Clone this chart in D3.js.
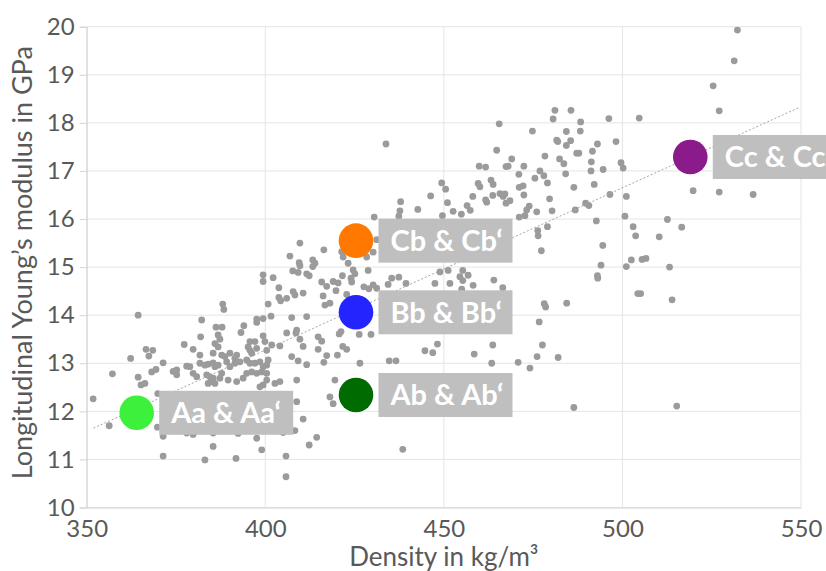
<!DOCTYPE html>
<html>
<head>
<meta charset="utf-8">
<script src="https://cdn.jsdelivr.net/npm/d3@7"></script>
<style>
  body { margin: 0; background: #fff; }
  text { font-family: Lato, "Open Sans", sans-serif; }
</style>
</head>
<body>
<div id="chart"></div>
<script>
// Sample measurements: [density kg/m3, longitudinal Young's modulus GPa]
const samples = [
  [481.1,18.26],[485.6,18.26],[480.6,18.08],[488.3,18.02],[496.2,18.09],[504.7,18.10],[465.5,17.98],[474.8,17.83],
  [484.3,17.82],[488.2,17.83],[481.6,17.64],[481.9,17.61],[485.5,17.63],[484.3,17.53],[493.0,17.56],[498.2,17.61],
  [464.8,17.43],[487.2,17.37],[487.8,17.37],[491.6,17.41],[478.3,17.31],[469.0,17.25],[482.4,17.25],[491.3,17.19],
  [483.6,17.15],[499.6,17.17],[467.4,17.09],[468.0,17.10],[472.4,17.10],[476.9,17.00],[491.2,17.00],[494.6,17.03],
  [500.2,17.06],[471.0,16.93],[478.0,16.90],[484.1,16.94],[475.5,16.85],[463.2,16.81],[463.8,16.72],[479.0,16.75],
  [492.1,16.72],[486.4,16.66],[471.1,16.66],[472.2,16.69],[463.7,16.49],[465.7,16.53],[467.1,16.52],[466.6,16.47],
  [472.4,16.50],[496.5,16.51],[501.1,16.47],[467.4,16.33],[468.5,16.38],[479.6,16.42],[489.7,16.33],[490.6,16.28],
  [473.9,16.27],[473.2,16.19],[476.0,16.15],[480.3,16.17],[486.8,16.19],[471.1,16.04],[472.7,16.07],[500.7,16.06],
  [492.7,15.96],[503.0,15.84],[479.0,15.84],[476.3,15.76],[476.4,15.65],[503.7,15.65],[510.3,15.63],[494.5,15.45],
  [477.3,15.34],[494.0,15.04],[501.1,15.01],[502.5,15.15],[505.5,15.16],[506.6,15.18],[493.0,14.82],[493.1,14.77],
  [464.0,14.73],[466.5,14.57],[504.3,14.45],[505.1,14.45],[478.1,14.24],[478.5,14.17],[484.4,14.25],[532.2,19.93],
  [531.3,19.29],[525.4,18.77],[527.1,18.25],[519.8,16.59],[527.1,16.56],[536.6,16.51],[516.6,15.83],[512.6,15.99],
  [513.2,15.00],[513.9,14.32],[476.7,13.86],[477.6,13.38],[476.1,13.14],[482.0,13.12],[474.1,12.90],[486.4,12.08],
  [515.2,12.11],[413.3,15.15],[413.9,15.08],[413.3,15.01],[409.7,15.03],[411.6,14.86],[412.3,14.82],[423.2,15.08],
  [424.6,14.94],[425.1,14.86],[428.8,14.93],[421.6,14.82],[419.0,14.70],[420.4,14.67],[415.8,14.69],[417.2,14.60],
  [435.4,14.77],[437.4,14.79],[434.4,14.64],[439.4,14.66],[427.6,14.59],[429.0,14.55],[430.2,14.63],[431.2,14.56],
  [424.2,14.69],[410.6,14.46],[416.2,14.40],[419.8,14.51],[418.1,14.25],[416.7,14.21],[422.8,14.43],[447.5,14.66],
  [448.9,14.90],[451.2,14.93],[454.5,14.80],[455.3,14.93],[455.3,14.72],[456.8,14.83],[451.7,14.66],[455.0,14.54],
  [458.2,14.62],[411.6,13.97],[409.7,13.50],[410.6,13.35],[414.8,13.55],[415.8,13.46],[414.8,13.29],[421.2,13.66],
  [420.7,13.61],[421.7,13.35],[422.8,13.29],[426.3,13.60],[429.6,13.60],[417.2,13.16],[420.2,13.17],[411.6,12.97],
  [416.4,13.02],[426.5,13.00],[434.7,13.05],[436.6,13.05],[444.7,13.26],[446.9,13.22],[448.2,13.40],[458.5,13.19],
  [463.7,13.38],[463.4,13.00],[470.8,13.02],[419.5,12.65],[418.1,12.30],[419.0,12.16],[410.6,11.84],[414.4,11.46],
  [412.3,11.30],[438.5,11.21],[433.8,17.56],[459.9,17.10],[461.7,17.08],[459.6,16.74],[460.1,16.67],[449.4,16.75],
  [450.5,16.62],[446.3,16.48],[458.1,16.47],[461.7,16.40],[462.0,16.35],[437.9,16.36],[437.7,16.17],[437.4,16.06],
  [442.7,16.20],[451.0,16.34],[452.6,16.16],[454.9,16.10],[456.5,16.28],[457.4,16.18],[449.6,16.07],[430.5,16.04],
  [409.7,15.50],[416.4,15.36],[421.4,15.32],[431.2,15.57],[430.2,15.31],[421.8,15.21],[428.4,15.21],[424.0,14.77],
  [406.9,15.23],[409.5,15.09],[407.7,14.92],[409.2,14.89],[399.4,14.84],[399.4,14.70],[402.2,14.78],[403.8,14.57],
  [403.8,14.37],[404.3,14.30],[406.0,14.35],[407.8,14.49],[408.3,14.42],[400.8,14.23],[388.1,14.23],[388.4,14.12],
  [382.2,13.90],[397.6,13.92],[397.6,13.85],[399.4,13.93],[401.6,13.98],[407.4,13.95],[386.2,13.75],[387.9,13.75],
  [394.0,13.78],[393.2,13.64],[386.8,13.59],[381.9,13.55],[387.3,13.50],[395.7,13.45],[397.1,13.45],[395.2,13.34],
  [399.4,13.57],[399.9,13.45],[401.8,13.38],[404.1,13.36],[406.0,13.63],[408.8,13.69],[408.6,13.63],[377.3,13.39],
  [385.9,13.41],[386.8,13.34],[379.8,13.29],[381.7,13.17],[385.4,13.21],[387.8,13.17],[388.7,13.14],[390.1,13.21],
  [392.0,13.17],[391.5,13.10],[395.7,13.27],[397.6,13.31],[396.2,13.21],[400.4,13.27],[371.4,13.01],[378.0,12.94],
  [378.9,12.93],[381.7,13.00],[383.1,12.96],[384.0,12.98],[385.4,13.01],[385.9,12.93],[386.8,12.96],[389.2,13.03],
  [390.1,12.93],[391.5,13.00],[392.9,13.03],[394.8,13.07],[395.7,13.00],[397.1,13.00],[398.5,13.03],[399.4,12.93],
  [400.4,12.96],[400.8,13.07],[407.4,13.14],[409.2,13.05],[374.2,12.83],[375.2,12.76],[379.8,12.79],[380.8,12.72],
  [383.6,12.76],[384.5,12.72],[385.4,12.69],[385.0,12.62],[385.9,12.58],[384.0,12.58],[387.8,12.79],[387.3,12.69],
  [389.6,12.65],[392.0,12.62],[393.8,12.69],[394.8,12.79],[396.2,12.82],[397.6,12.79],[399.0,12.82],[400.4,12.79],
  [400.4,12.65],[402.7,12.58],[404.1,12.62],[408.8,12.65],[398.5,12.51],[399.4,12.55],[408.8,12.20],[408.3,11.60],
  [371.4,11.48],[378.0,11.55],[379.8,11.52],[382.6,11.62],[385.4,11.55],[392.4,11.54],[397.6,11.44],[405.0,11.56],
  [385.4,11.27],[399.0,11.20],[371.4,11.07],[383.1,10.99],[391.8,11.02],[405.8,11.07],[405.8,10.64],[351.8,12.26],
  [357.2,12.78],[356.3,11.70],[364.4,14.00],[362.3,13.10],[366.6,13.29],[368.5,13.27],[367.4,13.15],[364.4,12.71],
  [365.2,12.55],[366.3,12.58],[368.2,12.82],[369.4,12.87],[369.9,12.37],[369.8,11.67],[375.2,12.86]
];

// Linear trend line end points
const trend = [[351.9, 11.65], [549.2, 18.31]];

// Highlighted specimens
const groupNames = ["Aa & Aa\u2018", "Ab & Ab\u2018", "Bb & Bb\u2018", "Cb & Cb\u2018", "Cc & Cc\u2018"];
const groupDensity = [364.0, 425.4, 425.4, 425.4, 519.0];
const groupModulus = [11.97, 12.34, 14.06, 15.55, 17.29];
const groupColors = ["#3cf03c", "#006b00", "#2424ff", "#ff7800", "#8b1a8b"];

const xTicks = [350, 400, 450, 500, 550];
const yTicks = [10, 11, 12, 13, 14, 15, 16, 17, 18, 19, 20];

const W = 826, H = 571;
const margin = {top: 26.7, right: 25, bottom: 63.5, left: 86.7};
const width = W - margin.left - margin.right,
      height = H - margin.top - margin.bottom;

const svg = d3.select("#chart")
  .append("svg")
    .attr("width", W)
    .attr("height", H);

const g = svg.append("g")
    .attr("transform", `translate(${margin.left},${margin.top})`);

const x = d3.scaleLinear().domain([350, 550]).range([0, width]);
const y = d3.scaleLinear().domain([10, 20]).range([height, 0]);

// Grid
g.append("g")
  .selectAll("line")
  .data(xTicks)
  .join("line")
    .attr("x1", d => x(d)).attr("x2", d => x(d))
    .attr("y1", 0).attr("y2", height)
    .attr("stroke", "#e4e4e4");

g.append("g")
  .selectAll("line")
  .data(yTicks)
  .join("line")
    .attr("x1", 0).attr("x2", width)
    .attr("y1", d => y(d)).attr("y2", d => y(d))
    .attr("stroke", "#e4e4e4");

// Axes
const yAxis = g.append("g")
    .call(d3.axisLeft(y).tickValues(yTicks).tickSize(7).tickPadding(5).tickFormat(d3.format("d")));
const xAxis = g.append("g")
    .attr("transform", `translate(0,${height})`)
    .call(d3.axisBottom(x).tickValues(xTicks).tickSize(0).tickPadding(12));

[xAxis, yAxis].forEach(a => {
  a.select(".domain").attr("stroke", "#d4d4d4");
  a.selectAll(".tick line").attr("stroke", "#d4d4d4");
  a.selectAll(".tick text")
    .attr("fill", "#595959")
    .style("font-size", "24px")
    .style("font-family", "Lato, sans-serif");
});

// Axis titles
g.append("text")
  .attr("text-anchor", "middle")
  .attr("x", width / 2)
  .attr("y", height + 59)
  .attr("fill", "#595959")
  .style("font-size", "26px")
  .text("Density in kg/m\u00b3");

g.append("text")
  .attr("text-anchor", "middle")
  .attr("transform", "rotate(-90)")
  .attr("x", -236)
  .attr("y", -margin.left + 32)
  .attr("fill", "#595959")
  .style("font-size", "27px")
  .text("Longitudinal Young\u2019s modulus in GPa");

// Scatter points
g.append("g")
  .selectAll("circle")
  .data(samples)
  .join("circle")
    .attr("cx", d => x(d[0]))
    .attr("cy", d => y(d[1]))
    .attr("r", 3.4)
    .attr("fill", "#9b9b9b");

// Trend line
g.append("path")
  .datum(trend)
  .attr("fill", "none")
  .attr("stroke", "#a6a6a6")
  .attr("stroke-width", 1)
  .attr("stroke-dasharray", "2,2")
  .attr("d", d3.line().x(d => x(d[0])).y(d => y(d[1])));

// Highlighted groups with labels
const groups = groupNames.map((name, i) => ({
  name: name, dens: groupDensity[i], mod: groupModulus[i], color: groupColors[i]
}));

const lab = g.append("g")
  .selectAll("g")
  .data(groups)
  .join("g")
    .attr("transform", d => `translate(${x(d.dens)},${y(d.mod)})`);

lab.append("rect")
  .attr("x", 22.5)
  .attr("y", -22)
  .attr("width", 134)
  .attr("height", 44)
  .attr("fill", "#bfbfbf");

lab.append("text")
  .attr("x", 22.5 + 12)
  .attr("y", 10.5)
  .attr("fill", "#fff")
  .style("font-size", "29px")
  .style("font-weight", "bold")
  .text(d => d.name);

lab.append("circle")
  .attr("r", 17.3)
  .attr("fill", d => d.color);
</script>
</body>
</html>
